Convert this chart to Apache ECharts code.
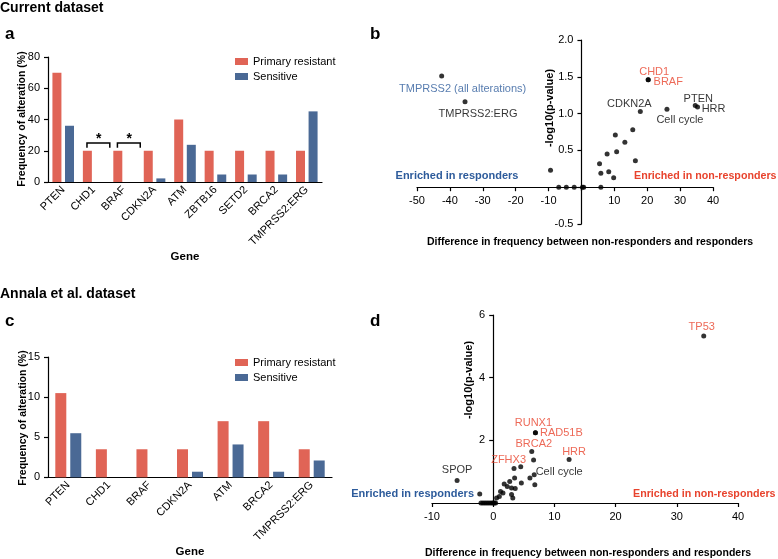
<!DOCTYPE html>
<html>
<head>
<meta charset="utf-8">
<script src="https://cdn.jsdelivr.net/npm/echarts@6/dist/echarts.min.js"></script>
<style>
  html, body { margin: 0; padding: 0; background: #fff; }
  #main { width: 778px; height: 559px; }
</style>
</head>
<body>
<div id="main"></div>
<script type="text/javascript">
var FONT = "'Liberation Sans', Arial, sans-serif";
var RED_BAR = '#E06456', BLUE_BAR = '#4A6995';
var RED_TXT = '#E8432D', BLUE_TXT = '#2D5B9B';

// panel a - current dataset, frequency of alteration (%)
var genesA = ['PTEN', 'CHD1', 'BRAF', 'CDKN2A', 'ATM', 'ZBTB16', 'SETD2', 'BRCA2', 'TMPRSS2:ERG'];
var resistantA = [70, 20, 20, 20, 40, 20, 20, 20, 20];
var sensitiveA = [36, 0, 0, 2.3, 23.8, 4.8, 4.8, 4.8, 45.2];
var starGenesA = ['CHD1', 'BRAF'];
var starLevelA = 25;

// panel c - Annala et al. dataset
var genesC = ['PTEN', 'CHD1', 'BRAF', 'CDKN2A', 'ATM', 'BRCA2', 'TMPRSS2:ERG'];
var resistantC = [10.5, 3.5, 3.5, 3.5, 7.0, 7.0, 3.5];
var sensitiveC = [5.5, 0, 0, 0.7, 4.1, 0.7, 2.1];

// panel b - difference vs -log10(p)
var namedB  = ['TMPRSS2 (all alterations)', 'TMPRSS2:ERG', 'CHD1', 'BRAF', 'CDKN2A', 'Cell cycle', 'PTEN', 'HRR'];
var namedBx = [-42.5, -35.4, 20.3, 20.3, 17.9, 26.0, 34.6, 35.3];
var namedBy = [1.51, 1.16, 1.46, 1.46, 1.03, 1.06, 1.11, 1.09];
var otherBx = [-9.4, -6.9, -4.6, -2.2, 0.3, 0.7, 5.9, 15.6, 10.3, 13.2, 7.8, 10.7, 5.5, 16.4, 5.9, 8.3, 9.8];
var otherBy = [0.23, 0, 0, 0, 0, 0, 0, 0.78, 0.71, 0.61, 0.45, 0.48, 0.32, 0.36, 0.19, 0.21, 0.13];

// panel d
var namedD  = ['TP53', 'RUNX1', 'RAD51B', 'BRCA2', 'ZFHX3', 'HRR', 'Cell cycle', 'SPOP'];
var namedDx = [34.4, 6.9, 6.9, 6.3, 6.6, 12.4, 6.7, -5.9];
var namedDy = [5.33, 2.24, 2.24, 1.64, 1.37, 1.39, 0.90, 0.72];
var otherDx = [3.4, 4.5, 6.0, 3.5, 2.7, 4.6, 6.8, 1.8, 2.3, 3.0, 3.6, 1.2, 1.6, 1.0, 0.55, 3.0, 3.2, -2.2,
               -2.0, -1.7, -1.4, -1.1, -0.8, -0.5, -0.2, 0, 0.2, 0.4];
var otherDy = [1.10, 1.16, 0.80, 0.80, 0.69, 0.64, 0.58, 0.61, 0.53, 0.48, 0.46, 0.37, 0.32, 0.21, 0.16, 0.27, 0.16, 0.29,
               0, 0, 0, 0, 0, 0, 0, 0, 0, 0];

// label placement (pixel offsets from the point) and colours
var labelStyleB = {
    'TMPRSS2 (all alterations)': { off: [21, 13], color: BLUE_TXT },
    'TMPRSS2:ERG': { off: [13, 12], color: '#000' },
    'CHD1': { off: [6, -8], color: RED_TXT },
    'BRAF': { off: [20, 2], color: RED_TXT },
    'CDKN2A': { off: [-11, -7], color: '#000' },
    'Cell cycle': { off: [13, 11], color: '#000' },
    'PTEN': { off: [3, -7], color: '#000' },
    'HRR': { off: [16, 2], color: '#000' }
};
var labelStyleD = {
    'TP53': { off: [-2, -9], color: RED_TXT },
    'RUNX1': { off: [-2, -10], color: RED_TXT },
    'RAD51B': { off: [26, 0], color: RED_TXT },
    'BRCA2': { off: [2, -8], color: RED_TXT },
    'ZFHX3': { off: [-25, 0], color: RED_TXT },
    'HRR': { off: [5, -7], color: RED_TXT },
    'Cell cycle': { off: [25, -3], color: '#000' },
    'SPOP': { off: [0, -10], color: '#000' }
};

var myChart = echarts.init(document.getElementById('main'));

function zip(xs, ys) {
    var out = [];
    for (var i = 0; i < xs.length; i++) out.push([xs[i], ys[i]]);
    return out;
}

function labeledPoints(names, xs, ys, styles) {
    var out = [];
    for (var i = 0; i < names.length; i++) {
        var s = styles[names[i]];
        out.push({
            value: [xs[i], ys[i]],
            name: names[i],
            label: {
                show: true, position: 'inside', offset: s.off, formatter: names[i],
                color: s.color, fontSize: 11, fontFamily: FONT
            }
        });
    }
    return out;
}

var axisLine = { lineStyle: { color: '#000', width: 1.2 } };
var axisTick = { lineStyle: { color: '#000', width: 1.2 }, length: 4 };
var axisLabel = { color: '#000', fontSize: 11, fontFamily: FONT };

function catAxis(grid, cats, gap) {
    return {
        type: 'category', gridIndex: grid, data: cats,
        name: 'Gene', nameLocation: 'middle', nameGap: gap,
        nameTextStyle: { fontWeight: 'bold', fontSize: 11.5, color: '#000', fontFamily: FONT },
        axisLine: axisLine, axisTick: { alignWithLabel: true, lineStyle: axisTick.lineStyle, length: 4 },
        axisLabel: { color: '#000', fontSize: 11, fontFamily: FONT, rotate: 45, interval: 0, margin: 6 },
        splitLine: { show: false }
    };
}

function barYAxis(grid, max, step) {
    return {
        type: 'value', gridIndex: grid, min: 0, max: max, interval: step,
        axisLine: { show: true, lineStyle: axisLine.lineStyle }, axisTick: { show: true, lineStyle: axisTick.lineStyle, length: 4 },
        axisLabel: axisLabel, splitLine: { show: false }
    };
}

// scatter axes cross at 0: the whole axis (line, ticks, labels) is shifted there with offset
function valAxis(grid, min, max, step, fmt, shift) {
    return {
        type: 'value', gridIndex: grid, min: min, max: max, interval: step,
        offset: shift,
        axisLine: { show: true, onZero: false, lineStyle: axisLine.lineStyle },
        axisTick: { show: true, lineStyle: axisTick.lineStyle, length: 4 },
        axisLabel: { color: '#000', fontSize: 11, fontFamily: FONT, formatter: fmt },
        splitLine: { show: false }
    };
}

// distance (px) from the low edge of an axis to its zero, negative = shift into the grid
function zeroShift(min, max, len) {
    return min < 0 ? -len * (-min) / (max - min) : 0;
}

function hideZero(v) { return v === 0 ? '' : String(v); }
function oneDec(v) { return v === 0 ? '' : v.toFixed(1); }

var legendStyle = {
    data: ['Primary resistant', 'Sensitive'], orient: 'vertical', left: 230, icon: 'rect',
    itemWidth: 13, itemHeight: 7, itemGap: 4, selectedMode: false,
    textStyle: { fontSize: 11, color: '#000', fontFamily: FONT }
};

function txt(x, y, text, font, color, align, rot) {
    return {
        type: 'text', x: x, y: y, rotation: rot || 0,
        style: { text: text, font: font, fill: color || '#000', textAlign: align || 'left', textVerticalAlign: 'middle' }
    };
}

var gridB = { left: 417, top: 40, width: 296, height: 184 };
var gridD = { left: 432, top: 315, width: 306, height: 188 };
var rangeB = { x: [-50, 40], y: [-0.5, 2.0] };
var rangeD = { x: [-10, 40], y: [0, 6] };

option = {
    animation: false,
    backgroundColor: '#fff',
    textStyle: { fontFamily: FONT },
    grid: [
        { left: 48, top: 57, width: 274, height: 125 },
        gridB,
        { left: 48, top: 357, width: 284, height: 133 },
        gridD
    ],
    legend: [
        Object.assign({ top: 51 }, legendStyle),
        Object.assign({ top: 352 }, legendStyle)
    ],
    xAxis: [
        catAxis(0, genesA, 58),
        valAxis(1, rangeB.x[0], rangeB.x[1], 10, hideZero, zeroShift(rangeB.y[0], rangeB.y[1], gridB.height)),
        catAxis(2, genesC, 59),
        valAxis(3, rangeD.x[0], rangeD.x[1], 10, null, zeroShift(rangeD.y[0], rangeD.y[1], gridD.height))
    ],
    yAxis: [
        barYAxis(0, 80, 20),
        valAxis(1, rangeB.y[0], rangeB.y[1], 0.5, oneDec, zeroShift(rangeB.x[0], rangeB.x[1], gridB.width)),
        barYAxis(2, 15, 5),
        valAxis(3, rangeD.y[0], rangeD.y[1], 2, hideZero, zeroShift(rangeD.x[0], rangeD.x[1], gridD.width))
    ],
    series: [
        { name: 'Primary resistant', type: 'bar', xAxisIndex: 0, yAxisIndex: 0, data: resistantA,
          barWidth: 9, barGap: '40%', itemStyle: { color: RED_BAR } },
        { name: 'Sensitive', type: 'bar', xAxisIndex: 0, yAxisIndex: 0, data: sensitiveA,
          barWidth: 9, barGap: '40%', itemStyle: { color: BLUE_BAR } },
        {
            type: 'custom', xAxisIndex: 0, yAxisIndex: 0, silent: true,
            data: starGenesA.map(function (g) { return [g, starLevelA]; }),
            renderItem: function (params, api) {
                var p = api.coord([api.value(0), api.value(1)]);
                var leg = api.coord([api.value(0), api.value(1) - 3])[1];
                var bw = api.size([1, 0])[0];
                var l = p[0] - 0.22 * bw, r = p[0] + 0.53 * bw;
                return {
                    type: 'group',
                    children: [
                        { type: 'polyline', shape: { points: [[l, leg], [l, p[1]], [r, p[1]], [r, leg]] },
                          style: { stroke: '#000', lineWidth: 1.5, fill: null } },
                        { type: 'text', x: p[0] + 0.17 * bw, y: p[1] - 4,
                          style: { text: '*', font: 'bold 14px ' + FONT, fill: '#000', textAlign: 'center', textVerticalAlign: 'middle' } }
                    ]
                };
            }
        },
        { name: 'Primary resistant', type: 'bar', xAxisIndex: 2, yAxisIndex: 2, data: resistantC,
          barWidth: 11, barGap: '36%', itemStyle: { color: RED_BAR } },
        { name: 'Sensitive', type: 'bar', xAxisIndex: 2, yAxisIndex: 2, data: sensitiveC,
          barWidth: 11, barGap: '36%', itemStyle: { color: BLUE_BAR } },
        { type: 'scatter', xAxisIndex: 1, yAxisIndex: 1, symbolSize: 5, itemStyle: { color: '#000' },
          data: zip(otherBx, otherBy) },
        { type: 'scatter', xAxisIndex: 1, yAxisIndex: 1, symbolSize: 5, itemStyle: { color: '#000' },
          data: labeledPoints(namedB, namedBx, namedBy, labelStyleB) },
        { type: 'scatter', xAxisIndex: 3, yAxisIndex: 3, symbolSize: 5, itemStyle: { color: '#000' },
          data: zip(otherDx, otherDy) },
        { type: 'scatter', xAxisIndex: 3, yAxisIndex: 3, symbolSize: 5, itemStyle: { color: '#000' },
          data: labeledPoints(namedD, namedDx, namedDy, labelStyleD) }
    ],
    graphic: [
        txt(0, 8, 'Current dataset', 'bold 14px ' + FONT),
        txt(5, 34, 'a', 'bold 17px ' + FONT),
        txt(370, 34, 'b', 'bold 17px ' + FONT),
        txt(0, 294, 'Annala et al. dataset', 'bold 14px ' + FONT),
        txt(5, 321, 'c', 'bold 17px ' + FONT),
        txt(370, 321, 'd', 'bold 17px ' + FONT),
        txt(22, 119, 'Frequency of alteration (%)', 'bold 10.5px ' + FONT, '#000', 'center', Math.PI / 2),
        txt(23, 418, 'Frequency of alteration (%)', 'bold 10.5px ' + FONT, '#000', 'center', Math.PI / 2),
        txt(550, 108, '-log10(p-value)', 'bold 11px ' + FONT, '#000', 'center', Math.PI / 2),
        txt(469, 380, '-log10(p-value)', 'bold 11px ' + FONT, '#000', 'center', Math.PI / 2),
        txt(590, 242, 'Difference in frequency between non-responders and responders', 'bold 10.5px ' + FONT, '#000', 'center'),
        txt(588, 553, 'Difference in frequency between non-responders and responders', 'bold 10.5px ' + FONT, '#000', 'center'),
        txt(457, 176, 'Enriched in responders', 'bold 11px ' + FONT, BLUE_TXT, 'center'),
        txt(634, 176, 'Enriched in non-responders', 'bold 10.7px ' + FONT, RED_TXT, 'left'),
        txt(474, 494, 'Enriched in responders', 'bold 11px ' + FONT, BLUE_TXT, 'right'),
        txt(633, 494, 'Enriched in non-responders', 'bold 10.7px ' + FONT, RED_TXT, 'left')
    ]
};

myChart.setOption(option);
</script>
</body>
</html>
